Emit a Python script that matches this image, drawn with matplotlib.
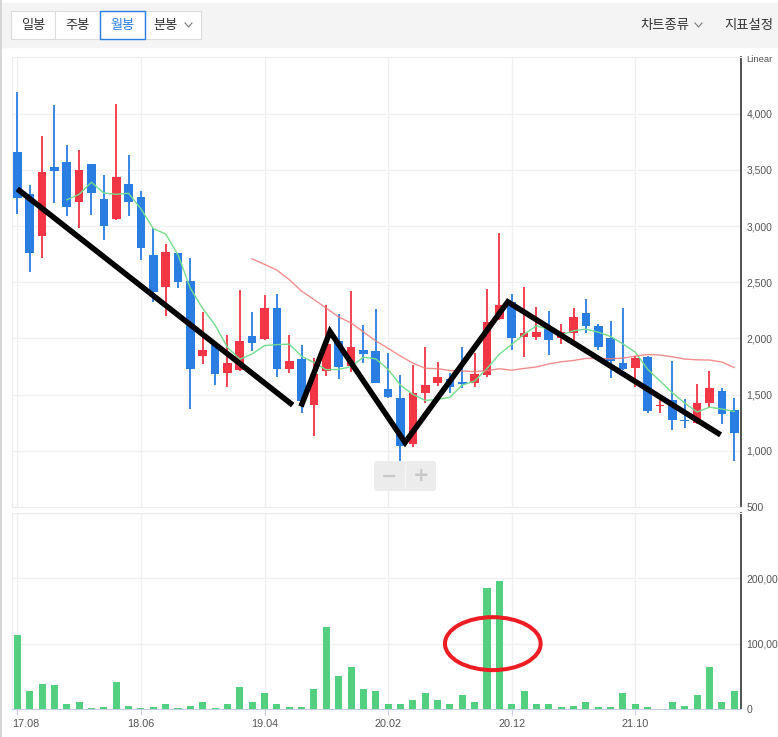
import matplotlib.pyplot as plt
import matplotlib.patches as mpatches
import matplotlib.transforms as mtransforms
from matplotlib.lines import Line2D
import numpy as np
import pandas as pd

plt.rcParams['font.family'] = ['Liberation Sans', 'DejaVu Sans']

# monthly candles, 17.08 .. 22.06
opens = [3660, 3287, 2916, 3527, 3571, 3218, 3553, 3242, 3067, 3376,
         3260, 2744, 2462, 2764, 2512, 1845, 1940, 1697, 1721, 2023,
         1999, 2272, 1727, 1816, 1412, 1714, 1979, 1756, 1899, 1890,
         1549, 1469, 1060, 1513, 1608, 1637, 1614, 1602, 1676, 2172,
         2328, 2012, 2017, 2106, 2003, 2047, 2225, 2112, 2003, 1780,
         1736, 1834, 1400, 1454, 1275, 1246, 1424, 1534, 1365]
highs = [4197, 3367, 3803, 4078, 3722, 3678, 3553, 3456, 4087, 3633,
         3313, 2987, 2839, 2764, 2715, 2237, 1945, 2032, 2432, 2237,
         2388, 2397, 2032, 1943, 1824, 2299, 2219, 2424, 2121, 2263,
         1869, 1676, 1765, 1928, 1789, 1691, 1928, 1869, 2441, 2937,
         2397, 2459, 2278, 2248, 2130, 2269, 2352, 2130, 2157, 2269,
         1845, 1845, 1448, 1795, 1462, 1596, 1706, 1563, 1474]
lows = [3111, 2595, 2720, 3209, 3093, 2981, 3102, 2877, 3055, 3093,
        2702, 2328, 2204, 2453, 1371, 1774, 1590, 1572, 1710, 1884,
        1990, 1661, 1697, 1341, 1136, 1667, 1643, 1705, 1786, 1600,
        1470, 786, 1030, 1430, 1580, 1519, 1563, 1572, 1661, 2165,
        1893, 1834, 1988, 1854, 1952, 1988, 2052, 1893, 1652, 1720,
        1567, 1335, 1335, 1187, 1201, 1240, 1394, 1240, 905]
closes = [3254, 2764, 3482, 3494, 3174, 3500, 3299, 3005, 3438, 3218,
          2809, 2417, 2770, 2506, 1732, 1899, 1688, 1780, 1979, 1964,
          2272, 1732, 1801, 1439, 1685, 1952, 1747, 1925, 1860, 1608,
          1483, 1047, 1513, 1587, 1661, 1572, 1596, 1685, 2148, 2299,
          2008, 2047, 2059, 1988, 2060, 2190, 2115, 1928, 1795, 1727,
          1825, 1350, 1410, 1270, 1268, 1430, 1563, 1329, 1163]
volumes = [112800, 28000, 39000, 37000, 8000, 10000, 2000, 3500, 42000, 5000,
           2000, 3500, 8000, 2000, 5000, 10000, 2000, 8000, 33000, 10000,
           24000, 8000, 3500, 3500, 30000, 125000, 50000, 64000, 30000, 27000,
           7000, 7000, 14000, 25000, 14000, 7000, 22000, 10000, 185000, 196000,
           8000, 28000, 8000, 7000, 3500, 5000, 11000, 3500, 3500, 25000,
           7000, 3500, 0, 10000, 5000, 22000, 64000, 11000, 27000]

tick_pos = [0, 10, 20, 30, 40, 50]
tick_labels = ['17.08', '18.06', '19.04', '20.02', '20.12', '21.10']

# hand drawn trend lines (candle index, price)
trend1 = [(0, 3331), (22.28, 1407)]
trend2 = [(22.95, 1394), (25.3, 2061), (31.37, 1074), (39.68, 2326), (56.9, 1142)]

W, H = 778, 737
BLUE = '#2a7de1'
RED = '#f23645'
VOL_GREEN = '#52d07f'
GRID = '#f0f0f0'


def fx(x):
    return x / W


def fy(y):
    return 1 - y / H


fig = plt.figure(figsize=(W / 100, H / 100), dpi=100)

ax = fig.add_axes([fx(12), fy(507), fx(741) - fx(12), fy(57) - fy(507)])
axv = fig.add_axes([fx(12), fy(709), fx(741) - fx(12), fy(513) - fy(709)])

x = np.arange(len(closes))
o = np.array(opens)
c = np.array(closes)
colors = [RED if cc >= oo else BLUE for oo, cc in zip(o, c)]

# candles
ax.vlines(x, lows, highs, colors=colors, lw=1.3, zorder=3)
body_h = np.maximum(np.abs(c - o), 10)
ax.bar(x, body_h, bottom=np.minimum(o, c), width=0.7, color=colors, zorder=4)

# moving averages
ma5 = pd.Series(closes).rolling(5).mean()
ma20 = pd.Series(closes).rolling(20).mean()
ax.plot(x, ma5, color='#74dc8e', lw=1.0, zorder=5)
ax.plot(x, ma20, color='#f07a7a', lw=1.0, alpha=0.85, zorder=5)

# trend lines
for tr in (trend1, trend2):
    tx, ty = zip(*tr)
    ax.plot(tx, ty, color='black', lw=4.0, solid_capstyle='butt',
            solid_joinstyle='miter', zorder=6)

ax.set_xlim(-0.43, 58.55)
ax.set_ylim(500, 4505)
ax.set_yticks([500, 1000, 1500, 2000, 2500, 3000, 3500, 4000])
ax.set_yticklabels(['500', '1,000', '1,500', '2,000', '2,500', '3,000', '3,500', '4,000'])
ax.set_xticks(tick_pos)
ax.set_xticklabels([])

# volume
axv.bar(x, volumes, width=0.57, color=VOL_GREEN, zorder=3)
axv.add_patch(mpatches.Ellipse((38.47, 100000), 7.74, 81000, fill=False,
                               edgecolor='#ee1d23', lw=2.9, zorder=6))
axv.set_xlim(-0.43, 58.55)
axv.set_ylim(0, 300000)
axv.set_yticks([0, 100000, 200000, 300000])
axv.set_yticklabels(['0', '100,000', '200,000', ''])
axv.set_xticks(tick_pos)
axv.set_xticklabels(tick_labels)

for a in (ax, axv):
    a.grid(True, color=GRID, lw=1, zorder=0)
    a.set_axisbelow(True)
    a.yaxis.tick_right()
    a.tick_params(axis='y', length=0, pad=4, labelsize=7.5, labelcolor='#555555')
    for s in ('top', 'left', 'bottom'):
        a.spines[s].set_color('#ececec')
    a.spines['right'].set_color('#333333')
    a.spines['right'].set_linewidth(1.2)

ax.tick_params(axis='x', length=0)
axv.spines['bottom'].set_color('#c5cee0')
axv.tick_params(axis='x', length=4, color='#c5cee0', labelsize=7.8,
                labelcolor='#555555', pad=3)

# first date label is pushed inside the plot like the reference
first = axv.get_xticklabels()[0]
first.set_horizontalalignment('left')
first.set_transform(first.get_transform() + mtransforms.ScaledTranslation(-5 / 100, 0, fig.dpi_scale_trans))

fig.text(fx(746), fy(59), 'Linear', fontsize=6.8, color='#555555', va='center', ha='left')

# toolbar
fig.add_artist(mpatches.Rectangle((fx(0), fy(47)), 1, fy(3) - fy(47),
                                  transform=fig.transFigure, color='#f4f4f4', zorder=1))
fig.add_artist(Line2D([fx(1), fx(1)], [0, 1], transform=fig.transFigure,
                      color='#cfcfcf', lw=1.2))

kr = ['Noto Sans CJK KR', 'DejaVu Sans']
buttons = [('일봉', 11, 55), ('주봉', 55, 100), ('월봉', 100, 145), ('분봉', 145, 201)]
for label, x0, x1 in buttons:
    sel = label == '월봉'
    fig.add_artist(mpatches.Rectangle((fx(x0), fy(38.5)), fx(x1) - fx(x0), fy(11.5) - fy(38.5),
                                      transform=fig.transFigure, facecolor='white',
                                      edgecolor='#dcdcdc', lw=0.8, zorder=2))
    cx = (x0 + x1) / 2 if label != '분봉' else 166
    fig.text(fx(cx), fy(25), label, family=kr, fontsize=9.5,
             color='#2a7de1' if sel else '#333333', ha='center', va='center', zorder=4)
fig.add_artist(mpatches.Rectangle((fx(100), fy(38.5)), fx(145) - fx(100), fy(11.5) - fy(38.5),
                                  transform=fig.transFigure, facecolor='none',
                                  edgecolor='#2a7de1', lw=1.0, zorder=3))


def chevron(cx, cy, color='#777777'):
    fig.add_artist(Line2D([fx(cx - 3.5), fx(cx), fx(cx + 3.5)], [fy(cy - 2), fy(cy + 2), fy(cy - 2)],
                          transform=fig.transFigure, color=color, lw=0.8, zorder=4))


chevron(188.5, 25)
fig.text(fx(640), fy(25), '차트종류', family=kr, fontsize=9.6, color='#333333', ha='left', va='center')
chevron(698.5, 25)
fig.text(fx(724), fy(25), '지표설정', family=kr, fontsize=9.6, color='#333333', ha='left', va='center')

# zoom control
fig.add_artist(mpatches.FancyBboxPatch((fx(374), fy(491)), fx(436) - fx(374), fy(461) - fy(491),
                                       boxstyle='round,pad=0,rounding_size=0.004',
                                       transform=fig.transFigure, facecolor='#ececec',
                                       edgecolor='none', zorder=7))
fig.add_artist(Line2D([fx(405), fx(405)], [fy(465), fy(487)], transform=fig.transFigure,
                      color='#f6f6f6', lw=1, zorder=8))
fig.text(fx(389.5), fy(476), '−', fontsize=14, fontweight='bold', color='#c8c8c8',
         ha='center', va='center', zorder=8, family=['DejaVu Sans'])
fig.text(fx(421), fy(476), '+', fontsize=14, fontweight='bold', color='#c8c8c8',
         ha='center', va='center', zorder=8, family=['DejaVu Sans'])

fig.savefig('out.png', dpi=100)
